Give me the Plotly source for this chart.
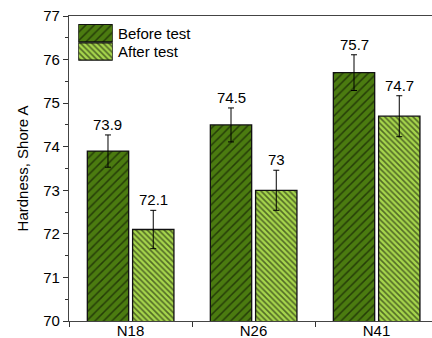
import plotly.graph_objects as go

# Hardness data (Shore A) for three compounds before and after the test
samples = ["N18", "N26", "N41"]
before_vals = [73.9, 74.5, 75.7]
before_err = [0.37, 0.39, 0.41]
after_vals = [72.1, 73.0, 74.7]
after_err = [0.44, 0.46, 0.47]
series_names = ["Before test", "After test"]
y_ticks = [70, 71, 72, 73, 74, 75, 76, 77]

FONT = "Liberation Sans, Arial, sans-serif"
DARK = "#4b7b10"
LIGHT = "#a6d64c"

BAR_W = 0.336
OFFSETS = [-0.351, 0.017]

fig = go.Figure()

series = [
    (before_vals, before_err, DARK, "/", 6, 0.25),
    (after_vals, after_err, LIGHT, "\\", 4, 0.4),
]

for (vals, errs, color, shape, size, solid), off, name in zip(series, OFFSETS, series_names):
    fig.add_trace(go.Bar(
        x=samples, y=vals, name=name,
        width=BAR_W, offset=off,
        marker=dict(
            color=color,
            line=dict(color="#111111", width=1.3),
            pattern=dict(shape=shape, fgcolor="#000000", bgcolor=color,
                         size=size, solidity=solid, fillmode="overlay"),
        ),
        error_y=dict(type="data", array=errs, visible=True,
                     color="#000000", thickness=1, width=3),
        showlegend=False,
    ))
    # value labels above the error bars
    center = off + BAR_W / 2
    for i, (v, e) in enumerate(zip(vals, errs)):
        fig.add_annotation(
            x=i + center, y=v + e, xref="x", yref="y",
            text=f"{v:g}", showarrow=False, yanchor="bottom",
            yshift=0, font=dict(family=FONT, size=15, color="#000000"),
        )

# legend swatches drawn as bars on a small inset axis pair
for k, ((vals, errs, color, shape, size, solid), name) in enumerate(zip(series, series_names)):
    pos = 1 - k
    fig.add_trace(go.Bar(
        x=[1], y=[pos], orientation="h", base=0,
        width=0.95, offset=-0.475,
        xaxis="x2", yaxis="y2",
        marker=dict(
            color=color,
            line=dict(color="#111111", width=1.3),
            pattern=dict(shape=shape, fgcolor="#000000", bgcolor=color,
                         size=size, solidity=solid, fillmode="overlay"),
        ),
        showlegend=False, hoverinfo="skip",
    ))
    fig.add_annotation(
        x=0.1295, xref="paper", y=pos, yref="y2", text=name,
        showarrow=False, xanchor="left", yanchor="middle",
        font=dict(family=FONT, size=15, color="#000000"),
    )

fig.update_layout(
    width=432, height=338,
    margin=dict(l=69, r=0, t=16, b=17, autoexpand=False),
    paper_bgcolor="white", plot_bgcolor="white",
    barmode="group",
    font=dict(family=FONT, size=15, color="#000000"),
    xaxis=dict(
        type="category", range=[-0.5, 2.451],
        tickson="boundaries", ticks="outside", ticklen=5, tickwidth=1,
        tickcolor="#333333", ticklabelstandoff=-4,
        showline=True, linecolor="#444444", linewidth=1.2, mirror=True,
        showgrid=False, zeroline=False, automargin=False,
        tickfont=dict(family=FONT, size=15, color="#000000"),
    ),
    yaxis=dict(
        range=[70, 77], tickvals=y_ticks,
        ticks="outside", ticklen=5, tickwidth=1, tickcolor="#333333",
        minor=dict(dtick=0.5, ticks="outside", ticklen=3, tickcolor="#333333", showgrid=False),
        showline=True, linecolor="#444444", linewidth=1.2, mirror=False,
        showgrid=False, zeroline=False, automargin=False,
        tickfont=dict(family=FONT, size=15, color="#000000"),
        title=dict(text="Hardness, Shore A", standoff=10,
                   font=dict(family=FONT, size=15, color="#000000")),
    ),
    xaxis2=dict(domain=[0.0256, 0.1204], range=[0, 1], anchor="y2",
                visible=False, fixedrange=True),
    yaxis2=dict(domain=[0.8534, 0.9738], range=[-0.5, 1.5], anchor="x2",
                visible=False, fixedrange=True),
)

fig.write_html("out.html")
